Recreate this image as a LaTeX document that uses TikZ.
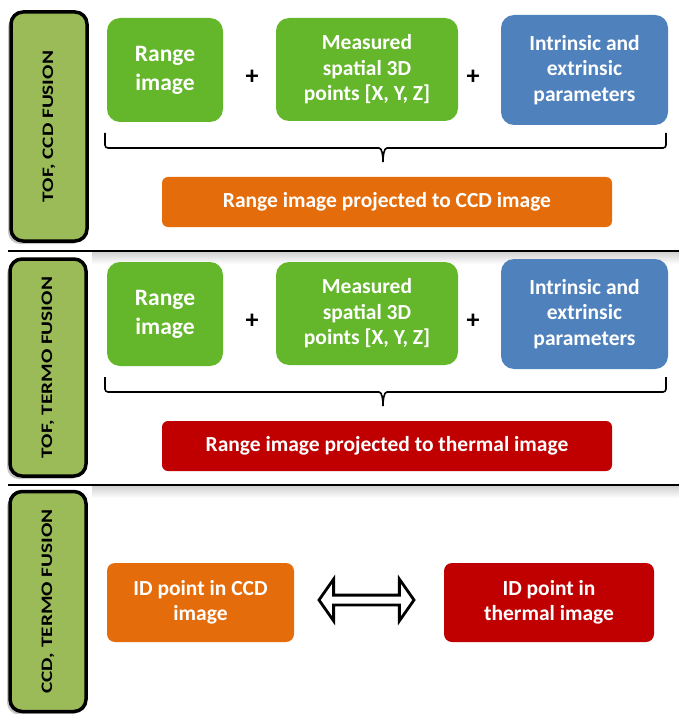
\documentclass[tikz,border=0pt]{standalone}
\usepackage{fontspec}
\setmainfont{Carlito}
\usetikzlibrary{shapes.arrows,shadows}

\definecolor{sidegreen}{HTML}{9BBB59}
\definecolor{boxgreen}{HTML}{64B72A}
\definecolor{boxblue}{HTML}{4F81BD}
\definecolor{boxorange}{HTML}{E46C0A}
\definecolor{boxred}{HTML}{C00000}

\newcommand{\widetext}[1]{\scalebox{1.33}[1]{#1}}

\begin{document}
\begin{tikzpicture}[x=1pt, y=-1pt, % one unit = one pixel, y downwards
	sidebar/.style={rounded corners=12pt, draw=black, line width=3.5pt, fill=sidegreen,
		rotate=90, minimum height=76pt, inner sep=0pt,
		font=\fontsize{16}{18}\selectfont\bfseries,
		drop shadow={opacity=0.45, shadow xshift=-3pt, shadow yshift=-3pt}},
	block/.style={rounded corners=13pt, text=white, align=center, inner sep=0pt,
		font=\fontsize{21.5}{25.5}\selectfont\bfseries},
	plus/.style={font=\fontsize{26}{26}\selectfont\bfseries, inner sep=0pt},
	brace/.style={line width=1.6pt}]
	\useasboundingbox (0,0) rectangle (679,714);

	% section bands
	\shade[top color=black!18, bottom color=white] (92,252) rectangle (679,264);
	\shade[top color=black!18, bottom color=white] (92,486) rectangle (679,498);
	\draw[line width=2pt] (8,251) -- (679,251);
	\draw[line width=2pt] (8,485) -- (679,485);

	% left labels
	\node[sidebar, minimum width=229pt] (s1) at (49,126.5) {\widetext{TOF, CCD FUSION}};
	\node[sidebar, minimum width=217pt] (s2) at (48,367.5) {\widetext{TOF, TERMO FUSION}};
	\node[sidebar, minimum width=220pt] (s3) at (48,601.5) {\widetext{CCD, TERMO FUSION}};

	% TOF, CCD
	\node[block, fill=boxgreen, minimum width=116pt, minimum height=104pt,
		font=\fontsize{23.5}{29}\selectfont\bfseries] (r1) at (165,70) {Range\\image};
	\node[plus] (p1) at (252,77) {+};
	\node[block, fill=boxgreen, minimum width=182pt, minimum height=103pt] (m1) at (367,69.5)
		{Measured\\spatial 3D\\points [X, Y, Z]};
	\node[plus] (q1) at (473,77) {+};
	\node[block, fill=boxblue, minimum width=167pt, minimum height=110pt] (i1) at (584.5,70)
		{Intrinsic and\\extrinsic\\parameters};
	\draw[brace, rounded corners=3pt] (105,133) |- (376,148) to[out=0,in=90] (383,162);
	\draw[brace, rounded corners=3pt] (666,133) |- (390,148) to[out=180,in=90] (383,162);
	\node[block, fill=boxorange, rounded corners=6pt, minimum width=450pt, minimum height=50pt] (c1) at (387,202)
		{Range image projected to CCD image};

	% TOF, TERMO
	\node[block, fill=boxgreen, minimum width=116pt, minimum height=104pt,
		font=\fontsize{23.5}{29}\selectfont\bfseries] (r2) at (165,314) {Range\\image};
	\node[plus] (p2) at (252,321) {+};
	\node[block, fill=boxgreen, minimum width=182pt, minimum height=103pt] (m2) at (367,313.5)
		{Measured\\spatial 3D\\points [X, Y, Z]};
	\node[plus] (q2) at (473,321) {+};
	\node[block, fill=boxblue, minimum width=167pt, minimum height=110pt] (i2) at (584.5,314)
		{Intrinsic and\\extrinsic\\parameters};
	\draw[brace, rounded corners=3pt] (105,377) |- (376,392) to[out=0,in=90] (383,406);
	\draw[brace, rounded corners=3pt] (666,377) |- (390,392) to[out=180,in=90] (383,406);
	\node[block, fill=boxred, rounded corners=6pt, minimum width=450pt, minimum height=50pt] (c2) at (387,446)
		{Range image projected to thermal image};

	% CCD, TERMO
	\node[block, fill=boxorange, rounded corners=8pt, minimum width=187pt, minimum height=79pt] (d1) at (200.5,602.5)
		{ID point in CCD\\image};
	\node[block, fill=boxred, rounded corners=8pt, minimum width=210pt, minimum height=79pt] (d2) at (549,602.5)
		{ID point in\\thermal image};
	\node[double arrow, draw=black, fill=white, line width=2.8pt, inner xsep=0pt, inner ysep=3.5pt,
		minimum height=95pt, double arrow head extend=16pt, double arrow tip angle=110] (swap) at (366.5,600) {};

\end{tikzpicture}
\end{document}
